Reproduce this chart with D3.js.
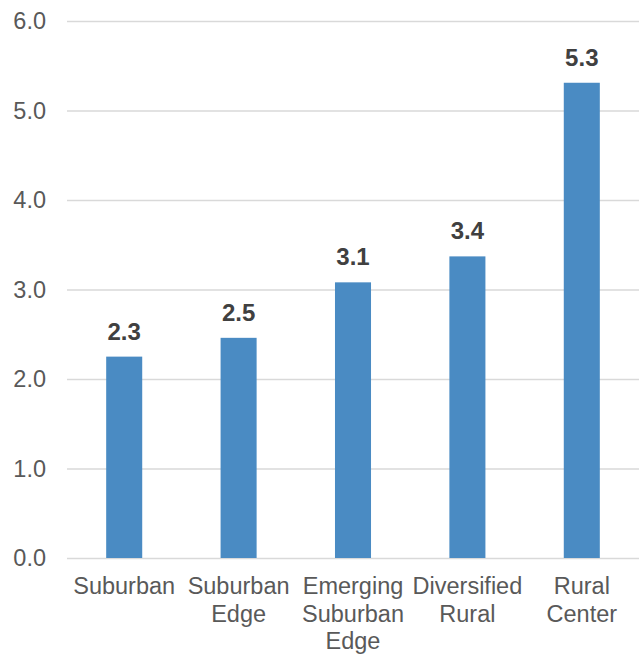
<!DOCTYPE html>
<html>
<head>
<meta charset="utf-8">
<script src="https://cdn.jsdelivr.net/npm/d3@7"></script>
<style>
  body { margin: 0; background: #fff; }
  svg { display: block; font-family: "Liberation Sans", Arial, sans-serif; }
</style>
</head>
<body>
<script>
// Chart data
const categories = ["Suburban", "Suburban Edge", "Emerging Suburban Edge", "Diversified Rural", "Rural Center"];
const categoryLines = [["Suburban"], ["Suburban", "Edge"], ["Emerging", "Suburban", "Edge"], ["Diversified", "Rural"], ["Rural", "Center"]];
const values = [2.25, 2.46, 3.08, 3.37, 5.31];
const valueLabels = ["2.3", "2.5", "3.1", "3.4", "5.3"];
const yTicks = [0, 1, 2, 3, 4, 5, 6];

const width = 639;
const height = 656;
const margin = { top: 21, right: 0, bottom: 98, left: 67 };

const svg = d3.select("body")
  .append("svg")
  .attr("width", width)
  .attr("height", height);

const x = d3.scaleBand()
  .domain(categories)
  .range([margin.left, width - margin.right])
  .paddingInner(0.685)
  .paddingOuter(0.3425);

const y = d3.scaleLinear()
  .domain([0, 6])
  .range([height - margin.bottom, margin.top]);

// Gridlines + y labels
const yAxis = d3.axisLeft(y)
  .tickValues(yTicks)
  .tickFormat(d3.format(".1f"))
  .tickSize(-(width - margin.left - margin.right))
  .tickPadding(21);

svg.append("g")
  .attr("transform", `translate(${margin.left},0)`)
  .call(yAxis)
  .call(g => g.select(".domain").remove())
  .call(g => g.selectAll(".tick line").attr("stroke", "#d9d9d9").attr("stroke-width", 1.5))
  .call(g => g.selectAll(".tick text")
    .attr("fill", "#595959")
    .attr("font-size", 23.5)
    .attr("font-family", "Liberation Sans, Arial, sans-serif"));

// Bars
svg.selectAll("rect.bar")
  .data(values)
  .enter()
  .append("rect")
  .attr("class", "bar")
  .attr("x", (d, i) => x(categories[i]))
  .attr("y", d => y(d))
  .attr("width", x.bandwidth())
  .attr("height", d => y(0) - y(d))
  .attr("fill", "#4a8bc3");

// Value labels
svg.selectAll("text.value")
  .data(values)
  .enter()
  .append("text")
  .attr("class", "value")
  .attr("x", (d, i) => x(categories[i]) + x.bandwidth() / 2)
  .attr("y", d => y(d) - 17)
  .attr("text-anchor", "middle")
  .attr("font-size", 24)
  .attr("font-weight", "bold")
  .attr("fill", "#404040")
  .text((d, i) => valueLabels[i]);

// Category labels
const catG = svg.append("g");
categories.forEach((c, i) => {
  const t = catG.append("text")
    .attr("x", x(c) + x.bandwidth() / 2)
    .attr("y", height - margin.bottom + 36)
    .attr("text-anchor", "middle")
    .attr("font-size", 23.5)
    .attr("fill", "#595959");
  categoryLines[i].forEach((line, j) => {
    t.append("tspan")
      .attr("x", x(c) + x.bandwidth() / 2)
      .attr("dy", j === 0 ? 0 : 27.5)
      .text(line);
  });
});
</script>
</body>
</html>
